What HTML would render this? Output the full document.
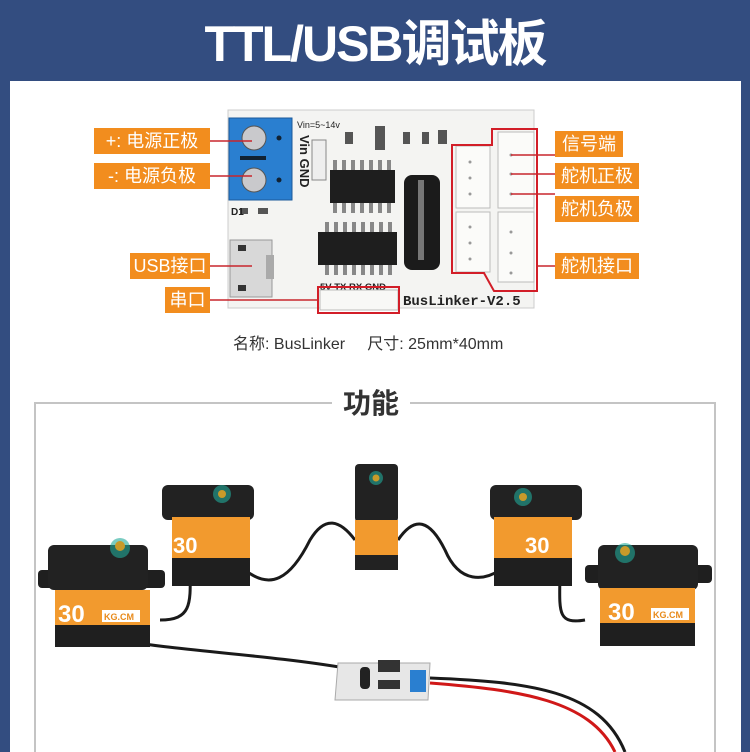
<!DOCTYPE html>
<html><head><meta charset="utf-8">
<style>
*{margin:0;padding:0;box-sizing:border-box}
html,body{width:750px;height:752px;overflow:hidden}
body{background:#334d80;position:relative;font-family:"Liberation Sans","Noto Sans CJK SC",sans-serif}
.a{position:absolute}
.lab{position:absolute;background:#f28d1e;color:#fff;font-size:18px;line-height:26px;height:26px;text-align:center;white-space:nowrap}
</style></head><body>
<div class="a" style="left:0;top:0;width:750px;height:80px;background:#334d80"></div>
<div class="a" style="left:0;top:14px;width:750px;text-align:center;color:#fff;font-size:50px;font-weight:bold;line-height:60px;letter-spacing:-2px">TTL/USB调试板</div>
<div class="a" style="left:10px;top:81px;width:731px;height:671px;background:#fff"></div>

<svg class="a" style="left:0;top:0" width="750" height="752">
 <rect x="228" y="110" width="306" height="198" fill="#f4f4f2" stroke="#ccc"/>
 <rect x="229" y="118" width="63" height="82" fill="#2a7fd0"/>
 <rect x="229" y="118" width="63" height="82" fill="none" stroke="#1c5a9a"/>
 <circle cx="254" cy="138" r="12" fill="#c9c9cc" stroke="#555"/>
 <circle cx="254" cy="180" r="12" fill="#c9c9cc" stroke="#555"/>
 <rect x="240" y="156" width="26" height="4" fill="#123"/>
 <circle cx="279" cy="138" r="2.5" fill="#123"/><circle cx="279" cy="180" r="2.5" fill="#123"/>
 <text x="297" y="128" font-size="9" fill="#222" font-family="Liberation Sans">Vin=5~14v</text>
 <text x="295" y="140" font-size="13" font-weight="bold" fill="#222" transform="rotate(90 300 140)" font-family="Liberation Sans">Vin GND</text>
 <rect x="312" y="140" width="14" height="40" fill="#eee" stroke="#888"/>
 <g fill="#888"><rect x="333" y="160" width="4" height="12"/><rect x="342" y="160" width="4" height="12"/><rect x="351" y="160" width="4" height="12"/><rect x="360" y="160" width="4" height="12"/><rect x="369" y="160" width="4" height="12"/><rect x="378" y="160" width="4" height="12"/><rect x="387" y="160" width="4" height="12"/>
 <rect x="333" y="201" width="4" height="12"/><rect x="342" y="201" width="4" height="12"/><rect x="351" y="201" width="4" height="12"/><rect x="360" y="201" width="4" height="12"/><rect x="369" y="201" width="4" height="12"/><rect x="378" y="201" width="4" height="12"/><rect x="387" y="201" width="4" height="12"/>
 <rect x="325" y="222" width="4" height="12"/><rect x="334" y="222" width="4" height="12"/><rect x="343" y="222" width="4" height="12"/><rect x="352" y="222" width="4" height="12"/><rect x="361" y="222" width="4" height="12"/><rect x="370" y="222" width="4" height="12"/><rect x="379" y="222" width="4" height="12"/><rect x="388" y="222" width="4" height="12"/>
 <rect x="325" y="263" width="4" height="12"/><rect x="334" y="263" width="4" height="12"/><rect x="343" y="263" width="4" height="12"/><rect x="352" y="263" width="4" height="12"/><rect x="361" y="263" width="4" height="12"/><rect x="370" y="263" width="4" height="12"/><rect x="379" y="263" width="4" height="12"/><rect x="388" y="263" width="4" height="12"/></g>
 <rect x="330" y="170" width="65" height="33" fill="#1e1e1e"/>
 <rect x="318" y="232" width="79" height="33" fill="#1e1e1e"/>
 <rect x="404" y="175" width="36" height="95" rx="8" fill="#1b1b1b"/>
 <rect x="418" y="180" width="6" height="80" fill="#777"/>
 <g fill="#555"><rect x="345" y="132" width="8" height="12"/><rect x="375" y="126" width="10" height="24"/><rect x="403" y="132" width="7" height="12"/><rect x="422" y="132" width="7" height="12"/><rect x="438" y="130" width="9" height="14"/><rect x="240" y="208" width="8" height="6"/><rect x="258" y="208" width="10" height="6"/></g>
 <text x="231" y="215" font-size="10" font-weight="bold" fill="#222" font-family="Liberation Sans">D1</text>
 <rect x="230" y="240" width="42" height="57" fill="#d8d8d8" stroke="#999"/>
 <rect x="238" y="245" width="8" height="6" fill="#333"/><rect x="238" y="285" width="8" height="6" fill="#333"/>
 <rect x="266" y="255" width="8" height="24" fill="#aaa"/>
 <rect x="456" y="146" width="34" height="62" fill="#fbfbf9" stroke="#bbb"/>
 <rect x="456" y="212" width="34" height="60" fill="#fbfbf9" stroke="#bbb"/>
 <rect x="498" y="132" width="36" height="76" fill="#fbfbf9" stroke="#bbb"/>
 <rect x="498" y="212" width="36" height="70" fill="#fbfbf9" stroke="#bbb"/>
 <g fill="#999"><circle cx="470" cy="162" r="1.5"/><circle cx="470" cy="178" r="1.5"/><circle cx="470" cy="194" r="1.5"/><circle cx="470" cy="227" r="1.5"/><circle cx="470" cy="243" r="1.5"/><circle cx="470" cy="259" r="1.5"/><circle cx="511" cy="155" r="1.5"/><circle cx="511" cy="174" r="1.5"/><circle cx="511" cy="194" r="1.5"/><circle cx="511" cy="232" r="1.5"/><circle cx="511" cy="253" r="1.5"/><circle cx="511" cy="273" r="1.5"/></g>
 <text x="320" y="290" font-size="9.5" font-weight="bold" fill="#222" font-family="Liberation Sans">5V TX RX GND</text>
 <rect x="320" y="290" width="78" height="20" fill="#f8f8f6" stroke="#bbb"/>
 <text x="403" y="305" font-size="14" font-weight="bold" fill="#222" font-family="Liberation Mono">BusLinker-V2.5</text>
 <polygon points="492,129 537,129 537,291 494,291 484,273 452,273 452,145 492,145" fill="none" stroke="#d21e28" stroke-width="2"/>
 <rect x="318" y="287" width="81" height="26" fill="none" stroke="#d21e28" stroke-width="2"/>
 <g stroke="#c8262d" stroke-width="1.5">
  <line x1="210" y1="141" x2="252" y2="141"/><line x1="210" y1="176" x2="252" y2="176"/>
  <line x1="210" y1="266" x2="252" y2="266"/><line x1="210" y1="300" x2="318" y2="300"/>
  <line x1="511" y1="155" x2="555" y2="155"/><line x1="511" y1="174" x2="555" y2="174"/>
  <line x1="511" y1="194" x2="555" y2="194"/><line x1="537" y1="266" x2="555" y2="266"/>
 </g>
</svg>
<div class="lab" style="left:94px;top:128px;width:116px">+:&nbsp;电源正极</div>
<div class="lab" style="left:94px;top:163px;width:116px">-:&nbsp;电源负极</div>
<div class="lab" style="left:130px;top:253px;width:80px">USB接口</div>
<div class="lab" style="left:165px;top:287px;width:45px">串口</div>
<div class="lab" style="left:555px;top:131px;width:68px">信号端</div>
<div class="lab" style="left:555px;top:163px;width:84px">舵机正极</div>
<div class="lab" style="left:555px;top:196px;width:84px">舵机负极</div>
<div class="lab" style="left:555px;top:253px;width:84px">舵机接口</div>
<div class="a" style="left:233px;top:330px;font-size:16px;color:#333;white-space:nowrap">名称: BusLinker&nbsp;&nbsp;&nbsp;&nbsp;&nbsp;尺寸: 25mm*40mm</div>

<div class="a" style="left:34px;top:402px;width:682px;height:350px;border:2px solid #c4c4c4;border-bottom:none"></div>
<div class="a" style="left:332px;top:384px;width:78px;height:40px;background:#fff;text-align:center;font-size:28px;font-weight:bold;color:#333;line-height:40px">功能</div>

<svg class="a" style="left:0;top:0" width="750" height="752">
 <g fill="none" stroke="#1a1a1a" stroke-width="3">
  <path d="M190 560 C190 600 195 620 160 620"/>
  <path d="M245 570 C270 590 290 580 310 540 C325 515 340 520 355 540"/>
  <path d="M398 540 C415 515 430 520 445 550 C460 585 485 580 500 570"/>
  <path d="M560 565 C560 610 555 625 585 620"/>
  <path d="M120 640 C170 650 270 655 345 668"/>
 </g>
 <path d="M430 683 C520 690 590 700 615 752" fill="none" stroke="#d01818" stroke-width="3"/>
 <path d="M430 678 C530 682 600 690 625 752" fill="none" stroke="#1a1a1a" stroke-width="3"/>
 <polygon points="338,663 430,663 428,700 335,700" fill="#e7e7e7" stroke="#aaa"/>
 <rect x="360" y="667" width="10" height="22" rx="4" fill="#222"/>
 <rect x="378" y="660" width="22" height="12" fill="#333"/><rect x="378" y="680" width="22" height="9" fill="#333"/>
 <rect x="410" y="670" width="16" height="22" fill="#2a7fd0"/>
 <rect x="38" y="570" width="127" height="18" rx="4" fill="#1f1f1f"/>
 <rect x="48" y="545" width="100" height="45" rx="6" fill="#222"/>
 <rect x="55" y="590" width="95" height="35" fill="#f29a2e"/>
 <rect x="55" y="625" width="95" height="22" fill="#1f1f1f"/>
 <text x="58" y="622" font-size="24" font-weight="bold" fill="#fff" font-family="Liberation Sans">30</text>
 <rect x="102" y="610" width="38" height="12" fill="#fff"/><text x="104" y="620" font-size="9" font-weight="bold" fill="#e88a1a" font-family="Liberation Sans">KG.CM</text>
 <circle cx="120" cy="548" r="10" fill="#2a9" opacity=".6"/><circle cx="120" cy="546" r="5" fill="#c89a2a"/>
 <rect x="162" y="485" width="92" height="35" rx="6" fill="#222"/>
 <rect x="172" y="517" width="78" height="43" fill="#f29a2e"/>
 <rect x="172" y="558" width="78" height="28" fill="#1f1f1f"/>
 <text x="173" y="553" font-size="22" font-weight="bold" fill="#fff" font-family="Liberation Sans">30</text>
 <circle cx="222" cy="494" r="9" fill="#2a9" opacity=".6"/><circle cx="222" cy="494" r="4" fill="#c89a2a"/>
 <rect x="355" y="464" width="43" height="58" rx="4" fill="#222"/>
 <rect x="355" y="520" width="43" height="35" fill="#f29a2e"/>
 <rect x="355" y="555" width="43" height="15" fill="#222"/>
 <circle cx="376" cy="478" r="7" fill="#2a9" opacity=".6"/><circle cx="376" cy="478" r="3.5" fill="#c89a2a"/>
 <rect x="490" y="485" width="92" height="35" rx="6" fill="#222"/>
 <rect x="494" y="517" width="78" height="43" fill="#f29a2e"/>
 <rect x="494" y="558" width="78" height="28" fill="#1f1f1f"/>
 <text x="525" y="553" font-size="22" font-weight="bold" fill="#fff" font-family="Liberation Sans">30</text>
 <circle cx="523" cy="497" r="9" fill="#2a9" opacity=".6"/><circle cx="523" cy="497" r="4" fill="#c89a2a"/>
 <rect x="585" y="565" width="127" height="18" rx="4" fill="#1f1f1f"/>
 <rect x="598" y="545" width="100" height="45" rx="6" fill="#222"/>
 <rect x="600" y="588" width="95" height="35" fill="#f29a2e"/>
 <rect x="600" y="623" width="95" height="23" fill="#1f1f1f"/>
 <text x="608" y="620" font-size="24" font-weight="bold" fill="#fff" font-family="Liberation Sans">30</text>
 <rect x="651" y="608" width="38" height="12" fill="#fff"/><text x="653" y="618" font-size="9" font-weight="bold" fill="#e88a1a" font-family="Liberation Sans">KG.CM</text>
 <circle cx="625" cy="553" r="10" fill="#2a9" opacity=".6"/><circle cx="625" cy="551" r="5" fill="#c89a2a"/>
</svg>
</body></html>
